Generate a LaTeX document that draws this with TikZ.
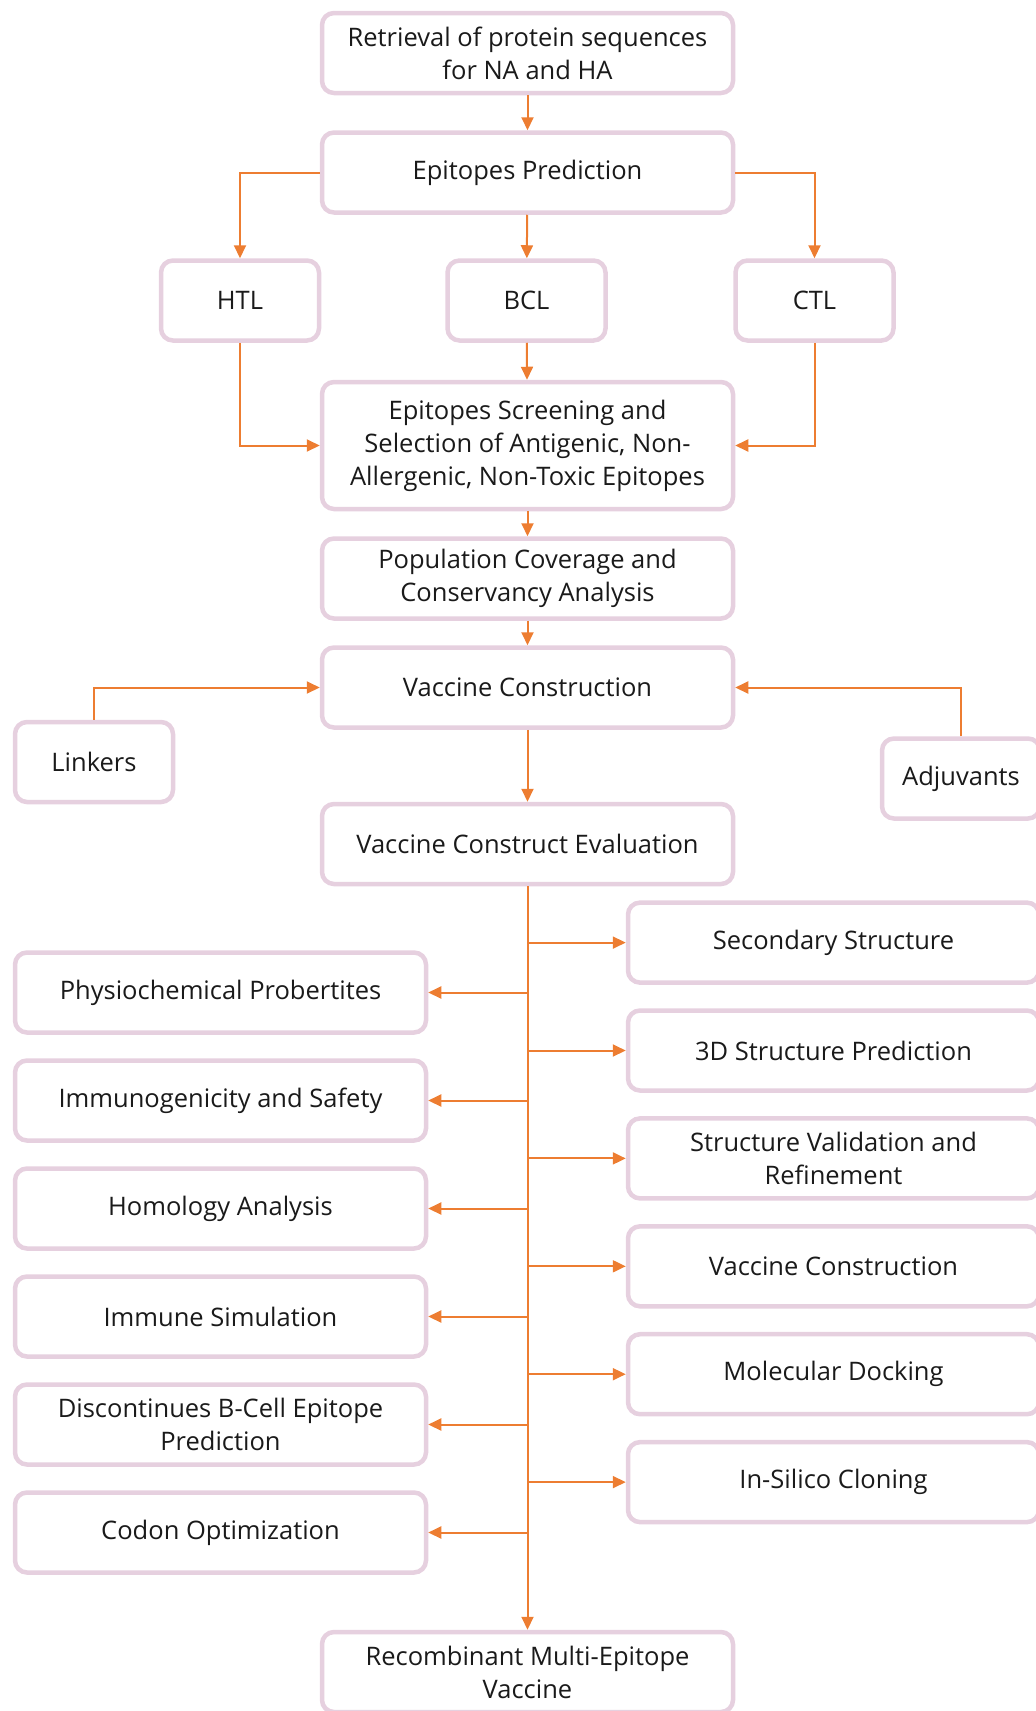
\documentclass[tikz,border=0pt]{standalone}
\usepackage{fontspec}
\setmainfont{Open Sans}
\usepackage{tikz}
\usetikzlibrary{arrows.meta}
\definecolor{boxedge}{RGB}{230, 208, 223}
\definecolor{linkorange}{RGB}{237, 125, 49}
\definecolor{boxtext}{RGB}{26, 26, 26}

\begin{document}
\begin{tikzpicture}[
      x=1pt, y=-1pt,
      stage/.style={draw=boxedge, fill=white, line width=4.5pt,
                    rounded corners=12pt, align=center, inner sep=0pt,
                    minimum width=411pt, minimum height=80pt,
                    text=boxtext, font=\fontsize{25.5}{33}\selectfont,
                    anchor=center},
      small/.style={stage, minimum width=158pt},
      tall/.style={stage, minimum height=127pt},
      link/.style={draw=linkorange, line width=2pt,
                   -{Triangle[length=13pt, width=12pt]}},
    ]
    \clip (0,0) rectangle (1036,1711);
    %% main column
    \node[stage] (seq)  at (527.5, 53)    {Retrieval of protein sequences\\for NA and HA};
    \node[stage] (pred) at (527.5, 172.5) {Epitopes Prediction};
    \node[small] (htl)  at (240, 300.5)   {HTL};
    \node[small] (bcl)  at (526.5, 300.5) {BCL};
    \node[small] (ctl)  at (814.5, 300.5) {CTL};
    \node[tall]  (scr)  at (527.5, 445.5) {Epitopes Screening and\\Selection of Antigenic, Non-\\Allergenic, Non-Toxic Epitopes};
    \node[stage] (pop)  at (527.5, 578.5) {Population Coverage and\\Conservancy Analysis};
    \node[stage] (vc)   at (527.5, 687.5) {Vaccine Construction};
    \node[small] (lnk)  at (94, 762)      {Linkers};
    \node[small] (adj)  at (961, 778.5)   {Adjuvants};
    \node[stage] (eval) at (527.5, 844)   {Vaccine Construct Evaluation};
    \node[stage] (rmv)  at (527.5, 1672)  {Recombinant Multi-Epitope\\Vaccine};
    %% right column
    \foreach \i/\t in {1/Secondary Structure,
                       2/3D Structure Prediction,
                       3/{Structure Validation and\\Refinement},
                       4/Vaccine Construction,
                       5/Molecular Docking,
                       6/In-Silico Cloning}{
      \node[stage] (r\i) at (833.5, 942.6+107.9*\i-107.9) {\t};
    }
    %% left column
    \foreach \i/\t in {1/Physiochemical Probertites,
                       2/Immunogenicity and Safety,
                       3/Homology Analysis,
                       4/Immune Simulation,
                       5/{Discontinues B-Cell Epitope\\Prediction},
                       6/Codon Optimization}{
      \node[stage] (l\i) at (220.5, 992.5+108*\i-108) {\t};
    }
    %% connectors
    \draw[link] (seq) -- (pred);
    \draw[link] (pred.west) -| (htl.north);
    \draw[link] (pred) -- (bcl);
    \draw[link] (pred.east) -| (ctl.north);
    \draw[link] (htl.south) |- (scr.west);
    \draw[link] (bcl) -- (scr);
    \draw[link] (ctl.south) |- (scr.east);
    \draw[link] (scr) -- (pop);
    \draw[link] (pop) -- (vc);
    \draw[link] (lnk.north) |- (vc.west);
    \draw[link] (adj.north) |- (vc.east);
    \draw[link] (vc) -- (eval);
    %% evaluation spine
    \draw[link] (eval.south) -- (rmv.north);
    \foreach \i in {1,...,6}{
      \draw[link] (eval.south |- r\i.west) -- (r\i.west);
      \draw[link] (eval.south |- l\i.east) -- (l\i.east);
    }
\end{tikzpicture}
\end{document}
